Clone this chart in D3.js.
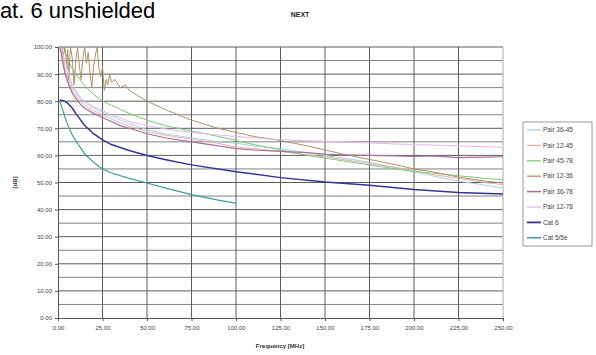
<!DOCTYPE html>
<html>
<head>
<meta charset="utf-8">
<script src="https://cdn.jsdelivr.net/npm/d3@7"></script>
<style>
  body { margin: 0; background: #fff; overflow: hidden; }
  svg { display: block; font-family: "Liberation Sans", Arial, sans-serif; }
</style>
</head>
<body>
<svg id="chart" width="596" height="355"></svg>
<script>
// series names and colours, in legend order
const seriesNames = ['Pair 36-45', 'Pair 12-45', 'Pair 45-78', 'Pair 12-36', 'Pair 36-78', 'Pair 12-78', 'Cat 6', 'Cat 5/5e'];
const seriesColors = ['#a6d4e2', '#eaaeae', '#78cc78', '#ae9468', '#a87098', '#e8b6e8', '#333399', '#3d9e9e'];

const xTicks = [0, 25, 50, 75, 100, 125, 150, 175, 200, 225, 250];
const yTicks = [0, 10, 20, 30, 40, 50, 60, 70, 80, 90, 100];

// frequency grid shared by the smooth pair curves (MHz)
const pairFreq = [1, 2, 3, 4, 6, 8, 10, 13, 16, 20, 25, 30, 35, 40, 50, 60, 75, 90, 100, 110, 125, 140, 150, 160, 175, 190, 200, 210, 225, 240, 250];

const pair3645 = [100, 99, 96, 92, 88, 85, 83, 80.5, 79, 77.5, 76, 74.5, 73, 71.8, 69.5, 68, 66.5, 65, 64.5, 63.5, 62.5, 61, 60, 59, 57.5, 55.5, 54, 52.5, 50.5, 49, 48];
const pair1245 = [100, 98, 95, 91, 87, 84, 82, 79.5, 78, 76.5, 75, 73.5, 72, 70.8, 68.8, 67.5, 66, 64.5, 63, 62.5, 61.5, 60.2, 59.5, 58.5, 57, 55.5, 54.5, 53, 51.5, 50, 49.2];
const pair4578 = [100, 100, 100, 98, 95, 92, 90, 87.5, 85, 82.5, 80, 78.5, 77, 75.5, 73, 71, 69, 67, 65.5, 64, 62, 60, 59, 58, 56.5, 55, 54, 53.5, 52.5, 51.5, 51];
const pair3678 = [100, 97, 93, 90, 86, 83, 81, 78.5, 77, 75.5, 74, 72.5, 71, 70, 68, 66.5, 65, 63.5, 62.5, 62, 61.5, 61, 60.5, 60.2, 60, 59.8, 59.6, 59.8, 59.2, 59.4, 59.5];
const pair1278 = [100, 99, 97, 95, 90, 86, 84, 81, 79.5, 78, 76.5, 75, 73.8, 72.5, 71, 69.8, 68.5, 67.5, 67, 66.5, 65.8, 65.4, 65.2, 65, 64.6, 64.2, 64, 63.8, 63.5, 63.2, 63];

// Pair 12-36 is noisy near the top of the scale
const pair1236Freq = [1, 2, 3, 4, 5, 5.5, 6, 7, 8, 9, 10, 11, 12, 13, 14, 15, 16, 17, 18, 19, 20, 21, 22, 23, 24, 25, 26, 27, 28, 29, 30, 32, 35, 38, 40, 45, 50, 60, 75, 90, 100, 110, 125, 140, 150, 160, 175, 190, 200, 210, 225, 240, 250];
const pair1236 = [100, 100, 97, 100, 92, 99, 88, 100, 96, 86, 95, 100, 93, 88, 96, 100, 94, 98, 90, 85, 93, 97, 100, 92, 89, 93, 84, 88, 86, 90, 87, 88, 85, 86, 84, 82, 80, 77, 73, 70, 68.5, 67, 65.5, 63.5, 62, 60.5, 58.5, 56.5, 55, 54, 52, 50.5, 49.8];

const cat6Freq = [1, 3, 5, 8, 10, 15, 20, 25, 30, 40, 50, 60, 75, 100, 125, 150, 175, 200, 225, 250];
const cat6 = [80.4, 80.2, 79.5, 77.5, 75.5, 71, 68, 65.7, 64, 61.8, 60, 58.5, 56.5, 54, 51.8, 50.2, 49, 47.4, 46.3, 45.8];

const cat5Freq = [1, 2, 3, 5, 8, 10, 15, 20, 25, 30, 40, 50, 60, 75, 90, 100];
const cat5 = [80, 78, 76, 72, 67.5, 65.5, 60.5, 57.5, 55, 53.5, 51.5, 49.8, 48, 45.5, 43.5, 42.4];

const seriesFreq = [pairFreq, pairFreq, pairFreq, pair1236Freq, pairFreq, pairFreq, cat6Freq, cat5Freq];
const seriesValues = [pair3645, pair1245, pair4578, pair1236, pair3678, pair1278, cat6, cat5];
const seriesWidth = [1, 1, 1, 1, 1.2, 1, 1.5, 1.2];

const svg = d3.select('#chart');
const x = d3.scaleLinear().domain([0, 250]).range([58, 503]);
const y = d3.scaleLinear().domain([0, 100]).range([318, 47]);

// page caption (cut off at the left edge like the source)
svg.append('text').attr('x', -16).attr('y', 18)
  .attr('font-size', 22).attr('fill', '#000')
  .text('Cat. 6 unshielded');

svg.append('text').attr('x', 300).attr('y', 17)
  .attr('text-anchor', 'middle').attr('font-size', 7).attr('font-weight', 'bold')
  .attr('fill', '#222').text('NEXT');

// grid
const grid = svg.append('g');
grid.selectAll('line.h')
  .data(d3.range(5, 101, 5))
  .join('line')
  .attr('x1', x(0)).attr('x2', x(250))
  .attr('y1', d => y(d)).attr('y2', d => y(d))
  .attr('stroke', d => d % 10 === 0 ? '#5c5c5c' : '#808080')
  .attr('stroke-width', 1);
grid.selectAll('line.v')
  .data(xTicks.slice(1))
  .join('line')
  .attr('x1', d => x(d)).attr('x2', d => x(d))
  .attr('y1', y(0)).attr('y2', y(100))
  .attr('stroke', d => d === 250 ? '#aaa' : '#5c5c5c')
  .attr('stroke-width', 1);

// axes
const xAxis = svg.append('g').attr('transform', `translate(0,${y(0)})`)
  .call(d3.axisBottom(x).tickValues(xTicks).tickFormat(d3.format('.2f')).tickSize(3).tickPadding(5));
const yAxis = svg.append('g').attr('transform', `translate(${x(0)},0)`)
  .call(d3.axisLeft(y).tickValues(yTicks).tickFormat(d3.format('.2f')).tickSize(3).tickPadding(3));
[xAxis, yAxis].forEach(a => {
  a.select('.domain').attr('stroke', '#555');
  a.selectAll('.tick line').attr('stroke', '#555');
  a.selectAll('text').attr('font-size', 6).attr('fill', '#444')
    .attr('font-family', '"Liberation Sans", Arial, sans-serif');
});

svg.append('text').attr('x', 280).attr('y', 348)
  .attr('text-anchor', 'middle').attr('font-size', 6).attr('font-weight', 'bold')
  .attr('fill', '#333').text('Frequency [MHz]');
svg.append('text')
  .attr('transform', `translate(17,${y(50)}) rotate(-90)`)
  .attr('text-anchor', 'middle').attr('font-size', 6).attr('font-weight', 'bold')
  .attr('fill', '#333').text('[dB]');

// curves
svg.append('clipPath').attr('id', 'plot-clip')
  .append('rect').attr('x', x(0)).attr('y', y(100))
  .attr('width', x(250) - x(0)).attr('height', y(0) - y(100));

const line = d3.line().x(d => x(d[0])).y(d => y(d[1]));
const curves = svg.append('g').attr('clip-path', 'url(#plot-clip)');
seriesNames.forEach((name, i) => {
  const pts = seriesFreq[i].map((f, k) => [f, seriesValues[i][k]]);
  curves.append('path')
    .datum(pts)
    .attr('d', line)
    .attr('fill', 'none')
    .attr('stroke', seriesColors[i])
    .attr('stroke-width', seriesWidth[i]);
});

// legend
const legend = svg.append('g');
legend.append('rect').attr('x', 523).attr('y', 122).attr('width', 69).attr('height', 124)
  .attr('fill', '#fff').attr('stroke', '#999').attr('stroke-width', 1);
const rows = legend.selectAll('g.row')
  .data(seriesNames)
  .join('g')
  .attr('transform', (d, i) => `translate(0,${130 + i * 15.4})`);
rows.append('line')
  .attr('x1', 527).attr('x2', 541).attr('y1', 0).attr('y2', 0)
  .attr('stroke', (d, i) => seriesColors[i])
  .attr('stroke-width', (d, i) => seriesWidth[i] + 0.3);
rows.append('text')
  .attr('x', 543).attr('y', 2.2).attr('font-size', 6.5).attr('fill', '#444')
  .text(d => d);
</script>
</body>
</html>
